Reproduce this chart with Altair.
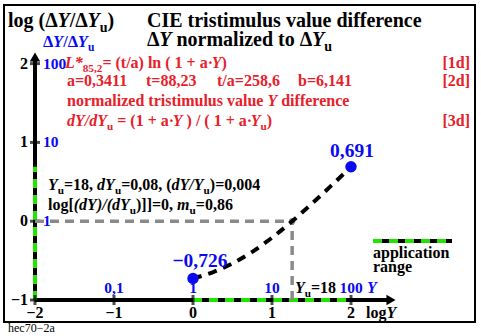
import altair as alt
import pandas as pd

# ---------------- data ----------------
log_y = [0.0, 0.25, 0.5, 0.75, 1.0, 1.25, 1.5, 1.75, 2.0]
log_ratio = [-0.726, -0.648, -0.536, -0.389, -0.209, -0.005, 0.218, 0.451, 0.691]
end_x = [0.0, 2.0]
end_y = [-0.726, 0.691]
end_labels = ["\u22120,726", "0,691"]
yu_log = 1.255          # log10(18)
x_ticks = [-2, -1, 0, 1, 2]
x_tick_labels = ["\u22122", "\u22121", "0", "1", "2"]
y_lin_pos = [-1, 0, 1, 2]
y_lin_labels = ["0,1", "1", "10", "100"]
y_ticks = [-1, 0, 1, 2]
y_tick_labels = ["\u22121", "0", "1", "2"]
ratio_pos = [0, 1, 2]
ratio_labels = ["1", "10", "100"]
app_x = [0.0, 2.0]
app_y = [-1.0, 0.691]

# ---------------- layout ----------------
W, H = 471, 317
PX = 79.0
PY = 78.8
X0 = -2.0 - 31 / PX
X1 = X0 + W / PX
Y1 = -1.0 + 295 / PY
Y0 = Y1 - H / PY
RED = "#e8202a"
BLUE = "#0a0af0"
K = "black"
FONT = "Liberation Serif"
GREEN = "#22e400"


def fx(px):
    return X0 + (px - 4) / PX


def fy(py):
    return Y1 - (py - 5) / PY


xs = alt.Scale(domain=[X0, X1], nice=False, zero=False)
ys = alt.Scale(domain=[Y0, Y1], nice=False, zero=False)


def X(f="x"):
    return alt.X(f + ":Q", scale=xs, axis=None)


def Y(f="y"):
    return alt.Y(f + ":Q", scale=ys, axis=None)


layers = []

# axes lines
axes_df = pd.DataFrame({"x": [-2.0, -2.0], "y": [-1.0, -1.0],
                        "x2": [-2.0, fx(390)], "y2": [fy(58), -1.0]})
layers.append(alt.Chart(axes_df).mark_rule(color=K, strokeWidth=4).encode(
    x=X(), y=Y(), x2="x2:Q", y2="y2:Q"))
arr_df = pd.DataFrame({"x": [-2.0, fx(391)], "y": [fy(57), -1.0], "s": ["triangle-up", "triangle-right"]})
layers.append(alt.Chart(arr_df).mark_point(filled=True, color=K, size=110, opacity=1).encode(
    x=X(), y=Y(), shape=alt.Shape("s:N", scale=None)))

# green application range on axes
appl_df = pd.DataFrame({"x": [app_x[0], -2.0], "x2": [app_x[1], -2.0],
                        "y": [-1.0, app_y[0]], "y2": [-1.0, app_y[1]]})
layers.append(alt.Chart(appl_df).mark_rule(color=GREEN, strokeWidth=4, strokeDash=[9, 7]).encode(
    x=X(), y=Y(), x2="x2:Q", y2="y2:Q"))

# ticks
xt_df = pd.DataFrame({"x": x_ticks, "y": [-1.0] * len(x_ticks), "l": x_tick_labels})
layers.append(alt.Chart(xt_df).mark_tick(color=K, orient="vertical", size=10, thickness=3).encode(x=X(), y=Y()))
yt_df = pd.DataFrame({"x": [-2.0] * len(y_ticks), "y": y_ticks, "l": y_tick_labels})
layers.append(alt.Chart(yt_df).mark_tick(color=K, orient="horizontal", size=10, thickness=3).encode(x=X(), y=Y()))

# tick labels
layers.append(alt.Chart(xt_df).mark_text(font=FONT, fontWeight="bold", fontSize=16, color=K,
                                         baseline="alphabetic", dy=18).encode(x=X(), y=Y(), text="l:N"))
layers.append(alt.Chart(yt_df).mark_text(font=FONT, fontWeight="bold", fontSize=16, color=K, align="right",
                                         baseline="alphabetic", dx=-7, dy=5).encode(x=X(), y=Y(), text="l:N"))
xl_df = pd.DataFrame({"x": y_lin_pos, "y": [-1.0] * 4, "l": y_lin_labels})
layers.append(alt.Chart(xl_df).mark_text(font=FONT, fontWeight="bold", fontSize=15.5, color=BLUE,
                                         baseline="alphabetic", dy=-7).encode(x=X(), y=Y(), text="l:N"))
rl_df = pd.DataFrame({"x": [-2.0] * 3, "y": ratio_pos, "l": ratio_labels})
layers.append(alt.Chart(rl_df).mark_text(font=FONT, fontWeight="bold", fontSize=15.5, color=BLUE, align="left",
                                         baseline="alphabetic", dx=8, dy=5).encode(x=X(), y=Y(), text="l:N"))

# grey reference lines
grey_df = pd.DataFrame({"x": [-2.0, yu_log], "x2": [yu_log, yu_log], "y": [0.0, -1.0], "y2": [0.0, 0.0]})
layers.append(alt.Chart(grey_df).mark_rule(color="#8a8a8a", strokeWidth=3.5, strokeDash=[9, 6]).encode(
    x=X(), y=Y(), x2="x2:Q", y2="y2:Q"))
layers.append(alt.Chart(pd.DataFrame({"x": [yu_log], "y": [0.0]})).mark_point(
    filled=True, color="#8a8a8a", size=40, opacity=1).encode(x=X(), y=Y()))

# curve
curve_df = pd.DataFrame({"x": log_y, "y": log_ratio})
layers.append(alt.Chart(curve_df).mark_line(color=K, strokeWidth=4, strokeDash=[9, 7],
                                            interpolate="monotone").encode(x=X(), y=Y()))

# end points
end_df = pd.DataFrame({"x": end_x, "y": end_y, "l": end_labels})
layers.append(alt.Chart(end_df).mark_point(filled=True, color=BLUE, size=130, opacity=1).encode(x=X(), y=Y()))
layers.append(alt.Chart(end_df.iloc[[0]]).mark_text(font=FONT, fontWeight="bold", fontSize=19.5, color=BLUE,
                                                    baseline="alphabetic", dx=7, dy=-11).encode(x=X(), y=Y(), text="l:N"))
layers.append(alt.Chart(end_df.iloc[[1]]).mark_text(font=FONT, fontWeight="bold", fontSize=19.5, color=BLUE,
                                                    baseline="alphabetic", dx=1, dy=-10).encode(x=X(), y=Y(), text="l:N"))

# legend line for application range
leg_df = pd.DataFrame({"x": [fx(373)], "x2": [fx(452)], "y": [fy(241)], "y2": [fy(241)]})
layers.append(alt.Chart(leg_df).mark_rule(color=K, strokeWidth=4).encode(x=X(), y=Y(), x2="x2:Q", y2="y2:Q"))
layers.append(alt.Chart(leg_df).mark_rule(color=GREEN, strokeWidth=4, strokeDash=[9, 7]).encode(
    x=X(), y=Y(), x2="x2:Q", y2="y2:Q"))

# ---------------- text runs (sequential layout with Times-Bold metrics) ----------------
W_N = {' ': 250, '(': 333, ')': 333, '*': 500, '+': 570, ',': 250, '/': 278, '=': 570, '[': 333,
       ']': 333, '\u00b7': 250, '\u0394': 612, '\u2212': 570, 'C': 722, 'E': 667, 'I': 389, 'L': 667, 'Y': 722,
       'a': 500, 'b': 556, 'c': 444, 'd': 556, 'e': 444, 'f': 333, 'g': 500, 'h': 556, 'i': 278, 'l': 278,
       'm': 833, 'n': 556, 'o': 500, 'p': 556, 'r': 444, 's': 389, 't': 333, 'u': 556, 'v': 500, 'z': 444}
W_I = {'Y': 611, 'd': 500, 'm': 778, 'L': 611, '*': 500, '/': 278, '(': 333, ')': 333, 'u': 556}


def width(text, italic, size):
    tab = W_I if italic else W_N
    return sum(tab.get(c, W_N.get(c, 500)) for c in text) * size / 1000.0


runs = []


def line(x0, base, size, segs, color=K):
    x = x0
    for text, kind in segs:
        lead = len(text) - len(text.lstrip(" "))
        trail = len(text) - len(text.rstrip(" "))
        core = text.strip(" ")
        s = size * 0.7 if kind == "s" else size
        it = 1 if kind == "i" else 0
        x += width(" " * lead, False, s)
        if kind == "s":
            runs.append((x, base + size * 0.27, core, s, color, 0, "left"))
        else:
            runs.append((x, base, core, s, color, it, "left"))
        x += width(core, it, s) + width(" " * trail, False, s)


n, i, s = "n", "i", "s"
TS = 20.0
line(8, 27, TS, [("log (\u0394", n), ("Y", i), ("/\u0394", n), ("Y", i), ("u", s), (")", n)])
line(147, 27, TS, [("CIE tristimulus value difference", n)])
line(147, 46, TS, [("\u0394", n), ("Y", i), (" normalized to \u0394", n), ("Y", i), ("u", s)])
line(43, 47, 16.5, [("\u0394", n), ("Y", i), ("/\u0394", n), ("Y", i), ("u", s)], BLUE)

RS = 16
line(65, 68, RS, [("L*", i), ("85,2", s), ("= (t/a) ln ( 1 + a\u00b7", n), ("Y", i), (")", n)], RED)
line(67, 86, RS, [("a=0,3411", n)], RED)
line(146, 86, RS, [("t=88,23", n)], RED)
line(217, 86, RS, [("t/a=258,6", n)], RED)
line(298, 86, RS, [("b=6,141", n)], RED)
line(67, 106, RS, [("normalized tristimulus value ", n), ("Y", i), (" difference", n)], RED)
line(67, 126, RS, [("dY/dY", i), ("u", s), (" = (1 + a\u00b7", n), ("Y", i), (" ) / ( 1 + a\u00b7", n),
                   ("Y", i), ("u", s), (")", n)], RED)
for yb, lab in [(68, "[1d]"), (86, "[2d]"), (126, "[3d]")]:
    runs.append((470, yb, lab, RS, RED, 0, "right"))

line(48, 190, RS, [("Y", i), ("u", s), ("=18, ", n), ("dY", i), ("u", s), ("=0,08, (", n), ("dY/Y", i),
                   ("u", s), (")=0,004", n)])
line(48, 210, RS, [("log[", n), ("(dY)/(dY", i), ("u", s), (")]]=0, ", n), ("m", i), ("u", s), ("=0,86", n)])
line(295, 293, RS, [("Y", i), ("u", s), ("=18", n)])
line(367, 293, RS, [("Y", i)], BLUE)
line(366, 318, RS, [("log", n), ("Y", i)])
line(373, 258, RS, [("application", n)])
line(373, 272, RS, [("range", n)])

runs_df = pd.DataFrame(runs, columns=["px", "py", "t", "size", "color", "it", "align"])
runs_df["x"] = runs_df["px"].apply(fx)
runs_df["y"] = runs_df["py"].apply(fy)

for (it, al), g in runs_df.groupby(["it", "align"]):
    layers.append(alt.Chart(g).mark_text(
        font=FONT, fontWeight="bold", fontStyle="italic" if it else "normal",
        align=al, baseline="alphabetic").encode(
        x=X(), y=Y(), text="t:N",
        size=alt.Size("size:Q", scale=None),
        color=alt.Color("color:N", scale=None)))

hec_df = pd.DataFrame({"x": [fx(8)], "y": [fy(332)], "t": ["hec70\u22122a"]})
layers.append(alt.Chart(hec_df).mark_text(font=FONT, fontSize=12, color=K, align="left",
                                          baseline="alphabetic").encode(x=X(), y=Y(), text="t:N"))

chart = alt.layer(*layers).properties(
    width=W, height=H,
    autosize=alt.AutoSizeParams(type="none"),
    padding={"left": 4, "top": 5, "right": 6, "bottom": 14},
    background="white",
).configure_view(stroke="black", strokeWidth=2)

chart.save("out.html", embed_options={"renderer": "svg", "actions": False})
